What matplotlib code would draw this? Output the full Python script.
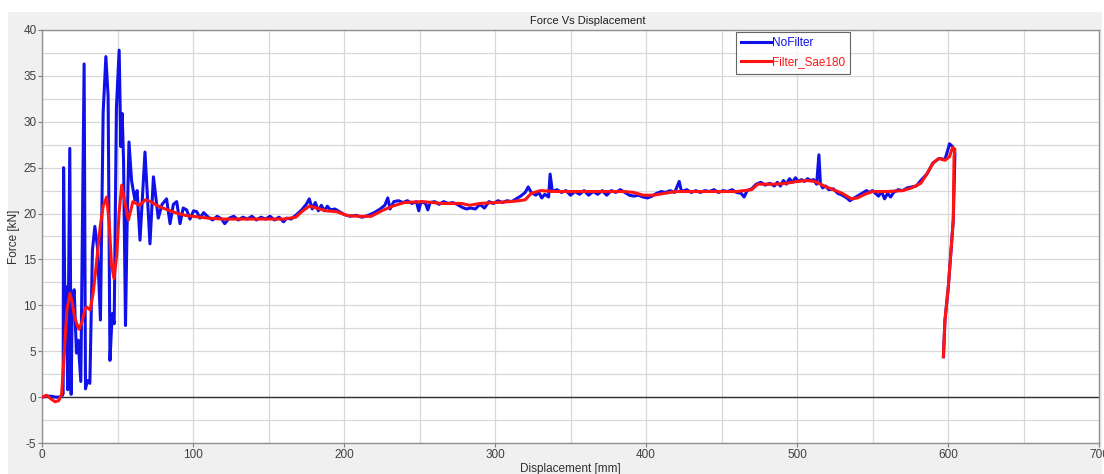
import matplotlib.pyplot as plt
from matplotlib.patches import Rectangle
from matplotlib.ticker import MultipleLocator

plt.rcParams['axes.unicode_minus'] = False

# NoFilter trace (displacement mm, force kN)
nofilter_disp = [
    0, 3, 6, 9, 12, 13.5,
    14.0, 14.3, 15.0, 15.6, 16.2, 17.0, 18.4, 19.3, 20.0, 21.3, 22.8, 23.9, 25.7,
    27.9, 28.8, 30.1, 31.7, 33.4, 35.0, 36.7, 38.7, 40.5, 42.3, 43.8, 45.0, 46.5,
    47.8, 49.3, 51.1, 52.2, 53.1, 54.0, 55.3, 56.3, 57.6, 59.3, 61.5, 63.0, 64.9,
    68.2, 71.5, 73.8, 77.0, 79.5, 82.5, 84.8, 87.0, 89.2, 91.4, 93.5, 95.8, 98.0,
    100.4, 102.5, 104.6, 107.0, 110.2,
    113, 116, 119, 121, 124, 127, 130, 133, 136, 139, 142, 145, 148, 151, 154,
    157, 160, 162, 165, 168,
    172, 175, 177, 179, 181, 183, 185, 187, 189, 191, 194, 197, 200, 204, 208,
    212, 216, 220, 224, 227, 229, 230.5, 233, 236, 239, 242, 245, 248, 249.5, 251,
    254, 255.5, 257, 260, 263, 266, 269, 272, 275, 278, 281, 284, 287, 290, 293,
    296, 299, 302, 305, 308, 311, 314, 317, 320, 322, 324, 327, 329, 331, 333,
    335.5, 336.5, 338, 341, 344, 347, 350, 353, 356, 359, 362, 365, 368, 371, 374,
    377, 380, 383, 386, 389, 392, 395, 398, 401, 404, 407, 410, 413,
    416, 419, 422, 423.5, 427, 430, 433, 436, 439, 442, 445, 448, 451, 454, 457,
    460, 463, 465, 467, 470, 473, 476, 479, 482, 485, 487, 489, 491, 493, 495,
    497, 499, 501, 503, 505, 507, 509, 511, 513, 514.5, 515.5, 517, 519, 521, 524,
    527, 530, 533, 535, 537, 540, 543, 546, 548, 550, 552, 554, 556, 558, 560,
    562, 564, 567, 570, 573, 576, 579, 582, 586, 590, 594, 598, 600, 601, 603,
    604.6, 603.5, 600.2, 598, 597,
]
nofilter_force = [
    0, 0.1, 0.1, 0, 0, 0.2,
    0.4, 25.0, 12.4, 5.0, 12.0, 0.8, 27.1, 0.3, 10.2, 11.7, 4.8, 6.2, 1.7,
    36.3, 0.9, 1.8, 1.5, 16.0, 18.6, 16.4, 8.4, 31.0, 37.1, 32.7, 4.0, 9.1,
    8.0, 31.6, 37.8, 27.3, 30.9, 25.8, 7.8, 18.2, 27.8, 23.6, 21.5, 22.5, 17.1,
    26.7, 16.7, 24.0, 19.5, 21.0, 21.6, 18.9, 21.0, 21.3, 18.9, 20.6, 20.4, 19.4,
    20.3, 20.2, 19.5, 20.1, 19.6,
    19.3, 19.7, 19.4, 18.9, 19.5, 19.7, 19.3, 19.6, 19.4, 19.7, 19.3, 19.6, 19.4,
    19.7, 19.3, 19.6, 19.1, 19.5, 19.4, 19.8,
    20.4, 21.0, 21.6, 20.5, 21.2, 20.3, 20.9, 20.3, 20.8, 20.4, 20.5, 20.2, 19.9,
    19.7, 19.8, 19.6, 19.8, 20.1, 20.5, 20.9, 21.7, 20.5, 21.3, 21.4, 21.2, 21.4,
    21.1, 21.3, 20.3, 21.3, 21.1, 20.4, 21.2, 21.3, 21.0, 21.3, 21.1, 21.2, 21.0,
    20.7, 20.5, 20.6, 20.5, 21.0, 20.6, 21.3, 21.1, 21.4, 21.2, 21.4, 21.3, 21.6,
    21.9, 22.3, 22.9, 22.3, 22.0, 22.3, 21.7, 22.1, 21.8, 24.3, 22.4, 22.6, 22.3,
    22.5, 22.0, 22.4, 22.1, 22.5, 22.0, 22.4, 22.1, 22.5, 22.0, 22.5, 22.3, 22.6,
    22.3, 22.0, 21.9, 22.0, 21.8, 21.7, 21.9, 22.2, 22.4, 22.3,
    22.5, 22.3, 23.5, 22.4, 22.6, 22.3, 22.5, 22.3, 22.5, 22.4, 22.6, 22.3, 22.5,
    22.4, 22.6, 22.3, 22.2, 21.8, 22.5, 22.7, 23.2, 23.4, 23.1, 23.3, 23.0, 23.4,
    23.0, 23.6, 23.2, 23.8, 23.4, 23.9, 23.5, 23.7, 23.5, 23.8, 23.6, 23.7, 23.2,
    26.4, 23.3, 22.8, 23.0, 22.6, 22.7, 22.2, 22.0, 21.7, 21.4, 21.6, 21.9, 22.2,
    22.5, 22.3, 22.5, 22.2, 21.9, 22.4, 21.6, 22.2, 21.8, 22.3, 22.6, 22.5, 22.8,
    22.9, 23.0, 23.6, 24.3, 25.5, 26.0, 25.9, 27.0, 27.6, 27.3,
    26.6, 19.3, 12.0, 8.4, 4.4,
]

# Filter_Sae180 trace
filter_disp = [
    0, 3, 6, 8.6, 11, 13, 15, 16.5, 18.5, 20, 21.5, 23, 24.5, 26.5, 28.5, 29.6,
    32, 34, 36, 38.5, 40.5, 42.8, 44.5, 46, 47.7, 49.5, 51, 52.8, 54.5, 57.2,
    60.2, 64.6, 68.5, 72, 76, 80, 85, 90, 95, 100, 110, 120, 140, 160, 168,
    172, 177, 182, 188, 195, 202, 210, 218, 225, 232, 240, 252, 265, 278, 283,
    290, 300, 310, 316, 320, 324, 330, 340, 360, 386, 392, 398, 405, 412, 420,
    438, 460, 470, 474, 485, 493, 500, 506, 512, 518, 524, 530, 536, 540, 545,
    550, 560, 570, 576, 582, 586, 590, 594, 598, 601, 603, 604.6, 604, 603.5,
    600.2, 598, 596.9,
]
filter_force = [
    0, 0.2, -0.2, -0.5, -0.4, 0.3, 5.5, 9.5, 11.3, 10.3, 8.8, 8.0, 7.4, 8.2,
    9.6, 9.8, 9.5, 11.5, 14.5, 18.5, 20.8, 21.8, 19.0, 14.5, 12.9, 15.5, 20.0,
    23.1, 21.5, 19.3, 21.3, 20.9, 21.5, 21.3, 20.9, 20.6, 20.3, 20.0, 19.8,
    19.7, 19.5, 19.4, 19.4, 19.4, 19.6, 20.2, 20.8, 20.6, 20.3, 20.2, 19.8,
    19.7, 19.7, 20.3, 20.8, 21.2, 21.3, 21.1, 21.1, 20.9, 21.1, 21.2, 21.3,
    21.4, 21.5, 22.2, 22.5, 22.4, 22.4, 22.4, 22.3, 22.0, 22.0, 22.2, 22.4,
    22.4, 22.4, 22.6, 23.2, 23.2, 23.3, 23.5, 23.6, 23.5, 23.0, 22.6, 22.2,
    21.6, 21.7, 22.1, 22.4, 22.4, 22.5, 22.8, 23.3, 24.3, 25.5, 26.0, 25.8,
    26.2, 27.2, 27.0, 26.2, 19.3, 12.0, 8.4, 4.4,
]

fig = plt.figure(figsize=(11.04, 4.74), dpi=100)
fig.patch.set_facecolor('white')
# grey panel behind the plot, leaving a thin white margin top/left
panel = Rectangle((8 / 1104, 0), 1094 / 1104, 1 - 12 / 474,
                  transform=fig.transFigure, facecolor='#f0f0f0',
                  edgecolor='none', zorder=-10)
fig.add_artist(panel)

ax = fig.add_axes([42 / 1104, 1 - 443 / 474, (1099 - 42) / 1104, (443 - 30) / 474])
ax.set_zorder(1)
ax.set_facecolor('white')

ax.plot(nofilter_disp, nofilter_force, color='#1010e8', lw=2.2, label='NoFilter', zorder=3)
ax.plot(filter_disp, filter_force, color='#ff1414', lw=2.2, label='Filter_Sae180', zorder=4)
ax.axhline(0, color='#303030', lw=1.0, zorder=2)

ax.set_xlim(0, 700)
ax.set_ylim(-5, 40)
ax.xaxis.set_major_locator(MultipleLocator(100))
ax.xaxis.set_minor_locator(MultipleLocator(50))
ax.yaxis.set_major_locator(MultipleLocator(5))
ax.yaxis.set_minor_locator(MultipleLocator(2.5))
ax.grid(True, which='both', color='#d8d8d8', lw=0.9, zorder=1)
ax.set_axisbelow(True)

font = 'Liberation Sans'
ax.tick_params(which='major', length=3, color='#808080', labelsize=8.5,
               labelcolor='#404040', pad=1)
ax.tick_params(which='minor', length=0)
for lab in ax.get_xticklabels() + ax.get_yticklabels():
    lab.set_fontfamily(font)
for s in ax.spines.values():
    s.set_color('#909090')
    s.set_linewidth(1.0)

ax.set_title('Force Vs Displacement', fontsize=8, family=font, color='#202020',
             pad=4, x=0.516)
ax.set_xlabel('Displacement [mm]', fontsize=8.5, family=font, color='#303030', labelpad=2)
ax.set_ylabel('Force [kN]', fontsize=8.5, family=font, color='#303030', labelpad=2)

leg = ax.legend(loc='upper left', bbox_to_anchor=(0.6566, 0.995),
                prop={'family': font, 'size': 8.5}, frameon=True, fancybox=False,
                handlelength=2.6, handletextpad=0.0, borderpad=0.45, labelspacing=0.6,
                borderaxespad=0.0)
leg.get_frame().set_edgecolor('#404040')
leg.get_frame().set_linewidth(0.8)
for txt, c in zip(leg.get_texts(), ['#1010e8', '#ff1414']):
    txt.set_color(c)

plt.savefig('out.png', dpi=100, facecolor=fig.get_facecolor())
